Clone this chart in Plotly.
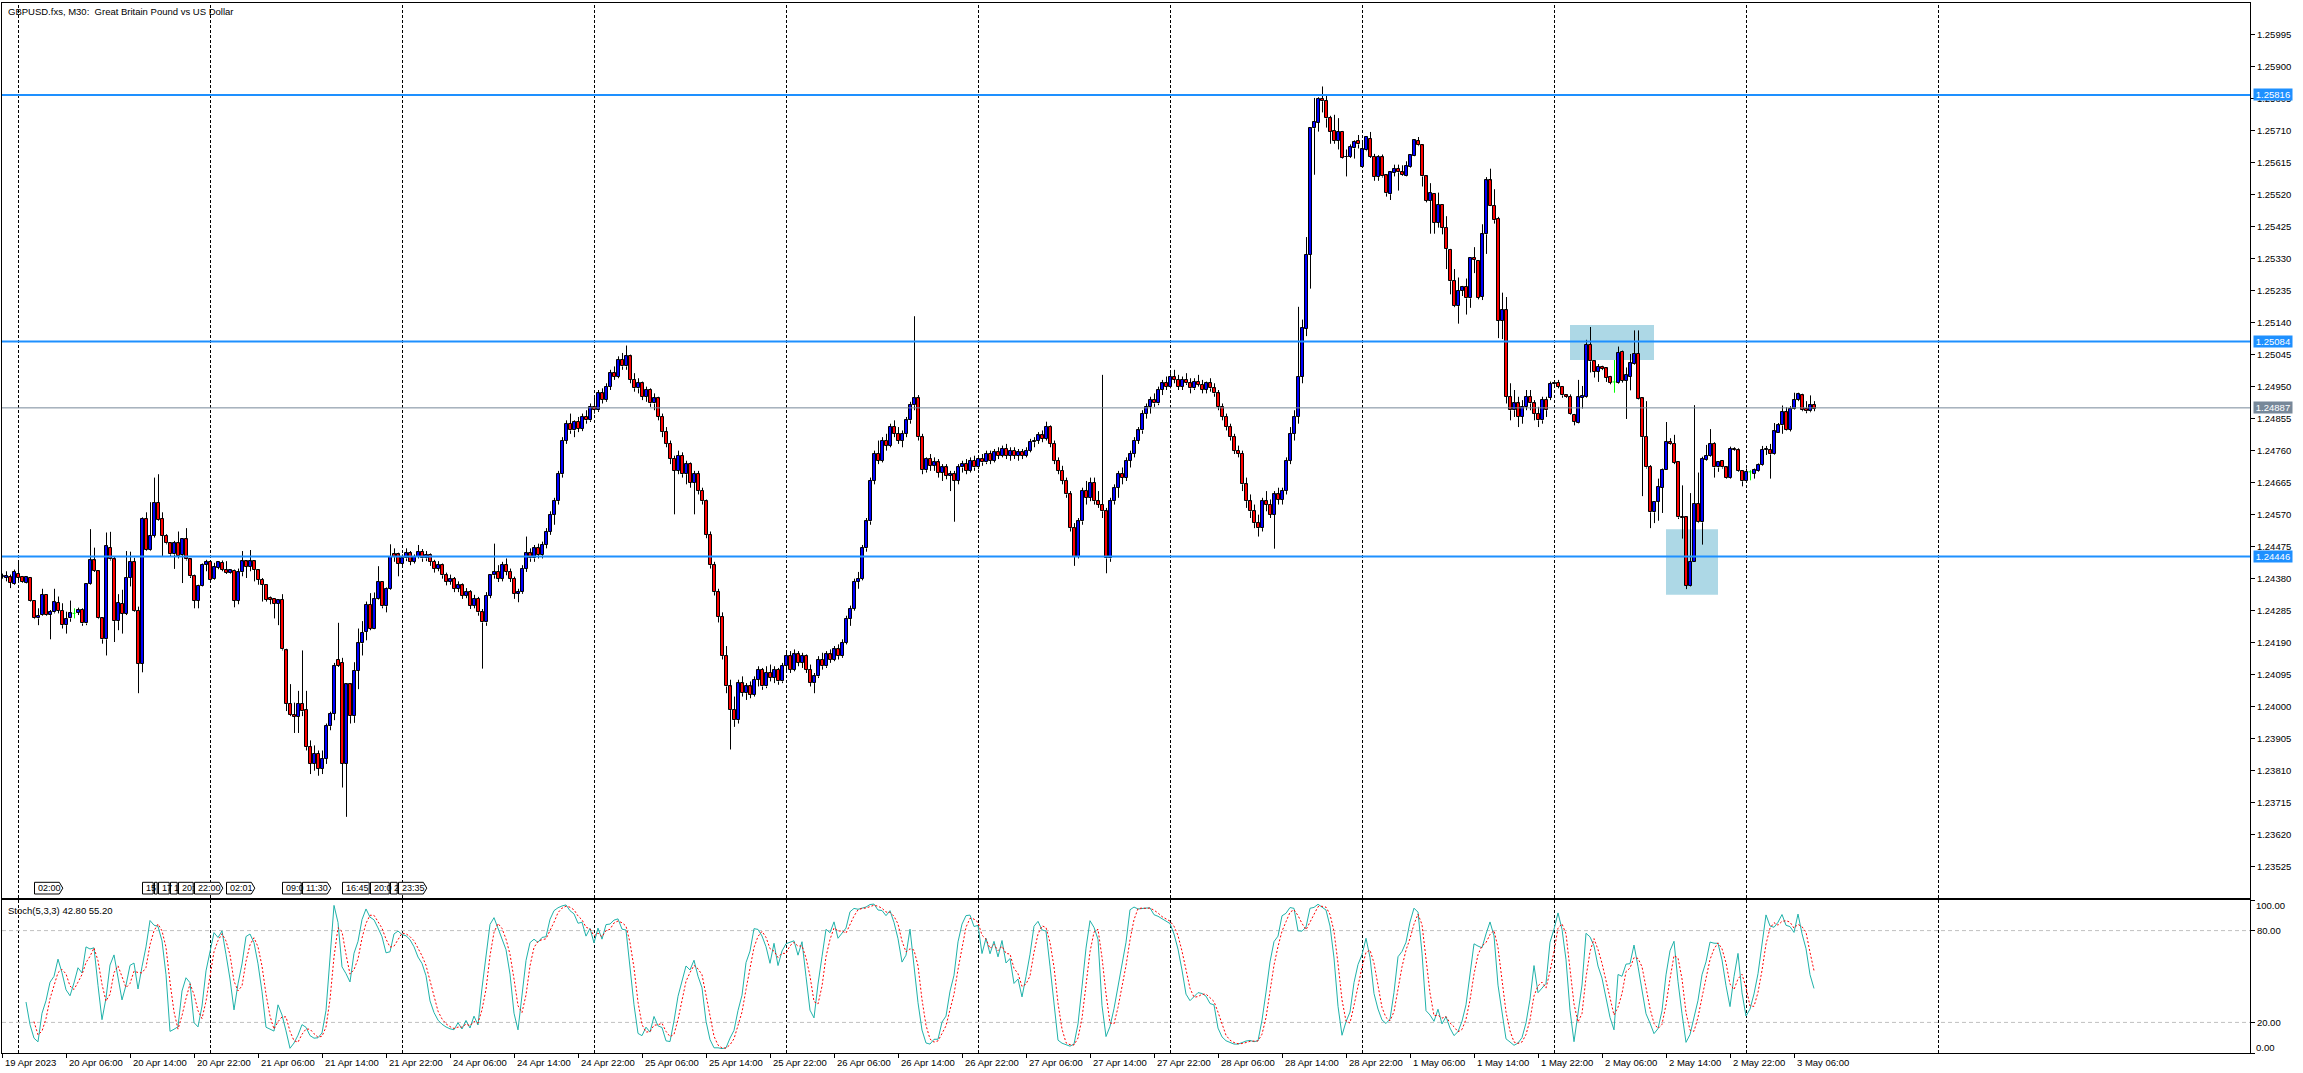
import numpy as np
import pandas as pd
import plotly.graph_objects as go

# ---------------- data ----------------
title_text = "GBPUSD.fxs, M30:  Great Britain Pound vs US Dollar"
stoch_text = "Stoch(5,3,3) 42.80 55.20"
first_bar = "2023-04-19 22:00"
POINT = 1e-5  # prices below are in points

opens = [
124385,124382,124384,124365,124394,124385,124368,124382,124314,124262,
124272,124332,124272,124280,124308,124284,124242,124262,124277,124279,
124287,124247,124364,124434,124402,124262,124200,124472,124437,124254,
124306,124276,124382,124429,124284,124127,124557,124464,124507,124606,
124557,124507,124485,124452,124485,124450,124497,124437,124387,124314,
124359,124422,124430,124378,124412,124427,124405,124397,124404,124314,
124399,124431,124415,124431,124405,124377,124362,124322,124320,124305,
124317,124167,124009,123975,123970,124009,123990,123880,123830,123860,
123815,123845,123942,123979,124140,124130,123830,124066,123972,124107,
124188,124222,124302,124232,124320,124370,124298,124350,124452,124452,
124425,124440,124455,124430,124445,124460,124440,124450,124430,124410,
124420,124390,124370,124380,124350,124360,124330,124340,124300,124320,
124280,124250,124330,124390,124400,124380,124420,124400,124380,124335,
124340,124410,124455,124440,124470,124450,124480,124520,124570,124610,
124690,124790,124840,124820,124845,124825,124860,124850,124890,124880,
124930,124910,124950,124990,124980,125030,125010,125040,124970,124945,
124960,124920,124940,124900,124915,124860,124815,124780,124735,124700,
124745,124690,124720,124665,124690,124640,124610,124510,124420,124340,
124266,124150,124060,123990,123960,124069,124040,124060,124035,124080,
124110,124060,124100,124085,124110,124075,124120,124150,124110,124155,
124130,124150,124110,124070,124090,124140,124120,124155,124140,124170,
124150,124190,124260,124290,124370,124380,124470,124550,124670,124750,
124730,124790,124775,124830,124810,124790,124810,124850,124895,124915,
124800,124702,124735,124715,124725,124695,124710,124685,124690,124670,
124710,124720,124700,124730,124710,124735,124725,124750,124730,124755,
124745,124765,124745,124760,124745,124755,124745,124760,124785,124790,
124805,124795,124830,124780,124730,124700,124670,124630,124530,124445,
124550,124640,124620,124665,124610,124600,124580,124440,124610,124650,
124690,124680,124730,124750,124790,124820,124870,124890,124910,124900,
124940,124960,124950,124980,124970,124950,124970,124960,124945,124965,
124955,124940,124960,124945,124930,124890,124860,124830,124800,124760,
124750,124660,124610,124580,124545,124530,124610,124600,124570,124630,
124615,124640,124730,124810,124860,124980,125122,125342,125717,125734,
125804,125799,125747,125709,125679,125707,125632,125632,125657,125679,
125601,125651,125685,125632,125572,125631,125577,125521,125584,125596,
125586,125574,125601,125636,125679,125666,125574,125501,125522,125437,
125489,125421,125357,125263,125189,125234,125246,125212,125333,125324,
125217,125402,125562,125487,125449,125146,125177,124920,124880,124900,
124860,124890,124920,124900,124870,124850,124910,124917,124957,124962,
124949,124924,124920,124867,124843,124917,124919,125075,125025,124994,
125008,125004,124979,124964,124962,125054,124967,124980,125017,125047,
124915,124802,124712,124577,124609,124650,124702,124787,124780,124727,
124564,124562,124359,124430,124601,124547,124732,124744,124780,124710,
124730,124710,124680,124765,124761,124699,124669,124697,124692,124699,
124717,124763,124763,124749,124812,124835,124874,124822,124885,124910,
124924,124884,124877,124895]

highs = [
124395,124402,124392,124407,124432,124388,124386,124385,124316,124292,
124350,124334,124287,124350,124327,124307,124282,124315,124292,124294,
124292,124367,124527,124472,124404,124264,124517,124519,124447,124334,
124347,124462,124460,124442,124297,124562,124577,124607,124680,124690,
124577,124512,124487,124492,124520,124500,124530,124440,124392,124362,
124425,124436,124434,124427,124432,124434,124432,124407,124407,124410,
124462,124435,124465,124432,124407,124382,124364,124327,124322,124319,
124334,124172,124067,124012,124047,124167,124047,123900,123885,123870,
123870,123950,123985,124130,124249,124145,124070,124070,124132,124232,
124254,124312,124337,124339,124417,124372,124354,124482,124470,124457,
124452,124470,124462,124452,124480,124468,124462,124455,124436,124432,
124425,124398,124392,124385,124372,124366,124352,124346,124332,124326,
124290,124340,124392,124484,124420,124430,124440,124410,124386,124350,
124420,124505,124470,124480,124484,124490,124530,124580,124620,124700,
124800,124850,124870,124850,124860,124870,124880,124900,124920,124940,
124945,124960,125000,125010,125040,125050,125072,125045,124990,124975,
124965,124950,124945,124930,124920,124870,124830,124790,124745,124760,
124755,124730,124725,124700,124700,124650,124615,124520,124430,124350,
124280,124180,124080,124030,124080,124090,124070,124075,124090,124120,
124115,124120,124125,124120,124115,124130,124160,124165,124170,124165,
124160,124155,124125,124100,124150,124160,124165,124170,124180,124185,
124200,124270,124300,124380,124400,124480,124560,124680,124760,124790,
124800,124810,124840,124850,124830,124820,124860,124905,125159,124925,
124810,124740,124750,124740,124735,124720,124720,124700,124700,124720,
124730,124735,124740,124745,124745,124750,124760,124760,124765,124770,
124775,124780,124770,124770,124765,124765,124770,124795,124800,124815,
124820,124846,124835,124790,124740,124715,124680,124640,124545,124560,
124650,124670,124680,124680,124640,124985,124590,124620,124660,124700,
124710,124740,124760,124800,124830,124880,124900,124920,124930,124950,
124970,124980,124990,125000,124985,124980,124990,124975,124975,124985,
124970,124965,124975,124960,124940,124900,124870,124840,124810,124775,
124760,124680,124630,124600,124570,124620,124640,124615,124640,124650,
124650,124740,124830,124880,125187,125149,125394,125719,125807,125809,
125841,125814,125754,125757,125747,125709,125654,125669,125681,125697,
125679,125694,125706,125641,125637,125639,125579,125589,125609,125609,
125607,125619,125639,125684,125691,125669,125576,125554,125524,125526,
125491,125456,125359,125299,125274,125249,125271,125334,125364,125326,
125432,125572,125597,125536,125454,125229,125216,124960,124940,124920,
124910,124940,124940,124910,124890,124920,124920,124965,124967,124970,
124952,124927,124927,124869,124970,124952,125089,125127,125027,125017,
125012,125007,124982,125029,125069,125057,125007,125047,125117,125117,
124917,124907,124717,124610,124677,124707,124845,124797,124807,124729,
124657,124564,124634,124895,124695,124742,124777,124824,124785,124729,
124732,124712,124772,124770,124767,124702,124707,124702,124707,124722,
124774,124774,124780,124842,124842,124894,124889,124892,124932,124932,
124929,124907,124924,124907]

lows = [
124380,124372,124352,124362,124372,124368,124366,124312,124260,124242,
124270,124270,124200,124277,124277,124232,124217,124252,124262,124272,
124240,124242,124362,124400,124260,124187,124152,124434,124192,124227,
124217,124272,124357,124282,124040,124102,124462,124462,124502,124552,
124447,124482,124447,124409,124440,124367,124434,124382,124292,124292,
124357,124402,124372,124376,124408,124402,124394,124395,124295,124304,
124387,124382,124402,124372,124362,124312,124312,124304,124262,124242,
124167,123987,123972,123922,123922,123972,123870,123800,123810,123795,
123800,123830,123930,123960,124118,123760,123673,123950,123952,124052,
124152,124197,124227,124230,124318,124292,124280,124347,124430,124387,
124418,124432,124420,124425,124440,124430,124432,124418,124398,124402,
124380,124360,124362,124340,124340,124320,124322,124290,124292,124270,
124113,124240,124322,124380,124370,124372,124390,124370,124320,124310,
124335,124400,124430,124430,124440,124440,124470,124510,124540,124600,
124680,124780,124810,124800,124815,124818,124840,124845,124870,124875,
124900,124905,124940,124970,124975,125000,125000,124960,124935,124930,
124910,124905,124890,124880,124850,124800,124770,124720,124571,124690,
124680,124660,124650,124571,124630,124600,124500,124410,124330,124250,
124140,124040,123873,123940,123950,124030,124020,124025,124030,124060,
124050,124055,124075,124070,124065,124070,124100,124100,124105,124120,
124115,124100,124060,124040,124085,124110,124115,124130,124135,124140,
124145,124185,124240,124285,124350,124375,124460,124540,124660,124720,
124725,124760,124770,124800,124780,124770,124800,124840,124880,124790,
124690,124695,124700,124700,124680,124670,124675,124640,124549,124660,
124695,124690,124695,124700,124705,124715,124720,124720,124725,124735,
124740,124735,124730,124735,124730,124735,124740,124755,124770,124780,
124785,124790,124770,124720,124690,124660,124620,124520,124418,124440,
124540,124600,124610,124600,124590,124560,124396,124430,124600,124620,
124660,124670,124710,124740,124780,124810,124855,124870,124890,124895,
124925,124940,124945,124960,124940,124940,124955,124930,124940,124950,
124930,124930,124935,124920,124880,124850,124820,124790,124750,124740,
124640,124590,124560,124530,124505,124520,124580,124560,124469,124600,
124600,124630,124720,124790,124840,124960,125100,125241,125579,125707,
125764,125719,125671,125671,125654,125627,125574,125629,125627,125657,
125599,125649,125629,125561,125561,125571,125514,125504,125574,125532,
125576,125573,125599,125634,125664,125544,125497,125404,125404,125422,
125402,125299,125224,125186,125137,125219,125164,125184,125287,125209,
125207,125344,125486,125434,125094,125091,124900,124850,124860,124830,
124840,124880,124880,124850,124830,124840,124860,124910,124949,124945,
124917,124917,124867,124835,124841,124885,124917,124992,124977,124964,
124999,124964,124957,124932,124959,124962,124854,124939,125015,124912,
124625,124707,124530,124545,124552,124575,124702,124777,124720,124557,
124499,124349,124357,124430,124545,124481,124730,124742,124680,124697,
124707,124677,124677,124759,124697,124654,124667,124672,124677,124697,
124715,124747,124677,124747,124812,124810,124820,124817,124882,124907,
124877,124871,124874,124877]

closes = [
124388,124388,124368,124400,124382,124370,124384,124314,124262,124270,
124332,124272,124282,124310,124284,124242,124260,124277,124277,124287,
124247,124364,124434,124404,124262,124200,124476,124437,124254,124308,
124276,124382,124430,124284,124127,124557,124464,124507,124606,124554,
124507,124485,124452,124485,124447,124497,124437,124387,124314,124359,
124422,124430,124375,124414,124429,124407,124397,124405,124314,124399,
124431,124415,124431,124407,124376,124362,124317,124317,124305,124316,
124170,124009,123975,123970,124009,123986,123880,123830,123860,123815,
123845,123942,123979,124120,124122,123830,124066,123972,124107,124188,
124220,124302,124232,124320,124370,124298,124350,124444,124444,124425,
124440,124455,124430,124445,124460,124440,124450,124430,124410,124420,
124390,124370,124380,124350,124360,124330,124340,124300,124320,124280,
124250,124330,124390,124400,124380,124420,124400,124380,124335,124340,
124410,124455,124440,124470,124450,124480,124520,124570,124610,124690,
124790,124840,124820,124845,124825,124860,124850,124890,124880,124930,
124910,124950,124990,124980,125030,125010,125040,124970,124945,124960,
124920,124940,124900,124915,124860,124815,124780,124735,124700,124745,
124690,124720,124665,124690,124640,124610,124510,124420,124340,124266,
124150,124060,123990,123960,124069,124040,124060,124035,124080,124110,
124060,124100,124085,124110,124075,124120,124150,124110,124155,124130,
124150,124110,124070,124090,124140,124120,124155,124140,124170,124150,
124190,124260,124290,124370,124380,124470,124550,124670,124750,124730,
124790,124775,124830,124810,124790,124810,124850,124895,124915,124800,
124702,124735,124715,124725,124695,124710,124685,124690,124670,124710,
124720,124700,124730,124710,124735,124725,124750,124730,124755,124745,
124765,124745,124760,124745,124755,124745,124760,124785,124790,124805,
124795,124830,124780,124730,124700,124670,124630,124530,124445,124550,
124640,124620,124665,124610,124600,124580,124440,124610,124650,124690,
124680,124730,124750,124790,124820,124870,124890,124910,124900,124940,
124960,124950,124980,124970,124950,124970,124960,124945,124965,124955,
124940,124960,124945,124930,124890,124860,124830,124800,124760,124750,
124660,124610,124580,124545,124530,124610,124600,124570,124630,124615,
124640,124730,124810,124860,124980,125124,125342,125717,125737,125804,
125797,125746,125707,125679,125707,125629,125633,125661,125676,125669,
125654,125691,125632,125572,125631,125574,125524,125586,125596,125586,
125579,125604,125637,125681,125666,125574,125501,125526,125437,125489,
125422,125359,125263,125189,125234,125247,125212,125333,125327,125214,
125402,125562,125487,125444,125146,125177,124920,124880,124900,124860,
124890,124920,124900,124870,124850,124910,124880,124957,124962,124949,
124924,124920,124869,124845,124918,124922,125075,125025,124994,125008,
125002,124977,124962,124964,125051,124967,124984,125020,125047,124914,
124800,124710,124577,124609,124652,124702,124787,124779,124724,124562,
124560,124359,124430,124603,124547,124735,124744,124780,124710,124727,
124710,124680,124765,124761,124699,124669,124697,124697,124702,124717,
124762,124764,124749,124817,124835,124874,124822,124885,124910,124927,
124880,124877,124897,124885]

level_prices = [1.25816, 1.25084, 1.24446]
last_price = 1.24887

price_tick_labels = ["1.25995", "1.25900", "1.25805", "1.25710", "1.25615", "1.25520",
                     "1.25425", "1.25330", "1.25235", "1.25140", "1.25045", "1.24950",
                     "1.24855", "1.24760", "1.24665", "1.24570", "1.24475", "1.24380",
                     "1.24285", "1.24190", "1.24095", "1.24000", "1.23905", "1.23810",
                     "1.23715", "1.23620", "1.23525"]
stoch_levels = [80, 20]

time_tick_times = ["2023-04-19 22:00", "2023-04-20 06:00", "2023-04-20 14:00", "2023-04-20 22:00",
                   "2023-04-21 06:00", "2023-04-21 14:00", "2023-04-21 22:00", "2023-04-24 06:00",
                   "2023-04-24 14:00", "2023-04-24 22:00", "2023-04-25 06:00", "2023-04-25 14:00",
                   "2023-04-25 22:00", "2023-04-26 06:00", "2023-04-26 14:00", "2023-04-26 22:00",
                   "2023-04-27 06:00", "2023-04-27 14:00", "2023-04-27 22:00", "2023-04-28 06:00",
                   "2023-04-28 14:00", "2023-04-28 22:00", "2023-05-01 06:00", "2023-05-01 14:00",
                   "2023-05-01 22:00", "2023-05-02 06:00", "2023-05-02 14:00", "2023-05-02 22:00",
                   "2023-05-03 06:00"]
time_tick_labels = ["19 Apr 2023", "20 Apr 06:00", "20 Apr 14:00", "20 Apr 22:00",
                    "21 Apr 06:00", "21 Apr 14:00", "21 Apr 22:00", "24 Apr 06:00",
                    "24 Apr 14:00", "24 Apr 22:00", "25 Apr 06:00", "25 Apr 14:00",
                    "25 Apr 22:00", "26 Apr 06:00", "26 Apr 14:00", "26 Apr 22:00",
                    "27 Apr 06:00", "27 Apr 14:00", "27 Apr 22:00", "28 Apr 06:00",
                    "28 Apr 14:00", "28 Apr 22:00", "1 May 06:00", "1 May 14:00",
                    "1 May 22:00", "2 May 06:00", "2 May 14:00", "2 May 22:00",
                    "3 May 06:00"]
grid_days = ["2023-04-20", "2023-04-21", "2023-04-24", "2023-04-25", "2023-04-26", "2023-04-27",
             "2023-04-28", "2023-05-01", "2023-05-02", "2023-05-03", "2023-05-04"]

# calendar event tags: time and the (truncated) text visible on the chart
event_times = ["2023-04-20 02:00", "2023-04-20 15:30", "2023-04-20 17:00", "2023-04-20 17:30",
               "2023-04-20 19:00", "2023-04-20 20:00", "2023-04-20 22:00", "2023-04-21 02:01",
               "2023-04-21 09:00", "2023-04-21 11:30", "2023-04-21 16:45", "2023-04-21 20:00",
               "2023-04-21 22:30", "2023-04-21 23:35"]
event_labels = ["02:00", "15", "", "17", "1", "20:", "22:00", "02:01",
                "09:0", "11:30", "16:45", "20:0", "2", "23:35"]

zone_start_times = ["2023-05-02 02:00", "2023-05-02 14:00"]
zone_end_times = ["2023-05-02 12:30", "2023-05-02 20:30"]
zone_tops = [1.25133, 1.24527]
zone_bottoms = [1.25029, 1.24332]

# ---------------- styles ----------------
FONT = "Liberation Sans, Arial, sans-serif"
BLUE_LINE = "#1E90FF"
UP_COL = "#0000FF"
DN_COL = "#FF0000"
DOJI_COL = "#00FF00"
W, H = 2303, 1073
M_L, M_R, M_T, M_B = 2, 53, 3, 20
plot_w = W - M_L - M_R
plot_h = H - M_T - M_B
X_RANGE = [0.0, 562.0]
Y_RANGE = [1.234312, 1.260888]
main_dom = [(1053 - 898.3) / plot_h, 1.0]
stoch_dom = [0.0, (1053 - 900) / plot_h]
px_per_bar = plot_w / (X_RANGE[1] - X_RANGE[0])
WICK_OFF = 0.5 / px_per_bar  # half-pixel offset so 1px wicks render crisp

n = len(closes)
assert len(opens) == n and len(highs) == n and len(lows) == n

O = np.array(opens) * POINT
Hh = np.array(highs) * POINT
L = np.array(lows) * POINT
C = np.array(closes) * POINT
idx = np.arange(n)

bar_times = pd.date_range(first_bar, periods=2000, freq="30min")
bar_times = bar_times[bar_times.dayofweek < 5][:700]
pos = {t: i for i, t in enumerate(bar_times)}


def tpos(s):
    return pos[pd.Timestamp(s).floor("30min")]


fig = go.Figure()

# wicks (split around body so they don't cross the fill)
top = np.maximum(O, C)
bot = np.minimum(O, C)
is_doji = O == C
wx, wy = [], []
for i in idx[~is_doji]:
    xw = i + WICK_OFF
    wx += [xw, xw, None, xw, xw, None]
    wy += [Hh[i], top[i], None, bot[i], L[i], None]
fig.add_trace(go.Scatter(x=wx, y=wy, mode="lines", line=dict(color="black", width=1),
                         hoverinfo="skip", showlegend=False))

up = (C > O)
dn = (C < O)
for mask, col in [(up, UP_COL), (dn, DN_COL)]:
    fig.add_trace(go.Bar(x=idx[mask], y=(top - bot)[mask], base=bot[mask], width=0.75,
                         marker=dict(color=col, line=dict(color="black", width=1)),
                         hoverinfo="skip", showlegend=False))

dx, dy = [], []
for i in idx[is_doji]:
    xw = i + WICK_OFF
    dx += [xw, xw, None, i - 0.375, i + 0.375, None]
    dy += [Hh[i], L[i], None, O[i], O[i], None]
fig.add_trace(go.Scatter(x=dx, y=dy, mode="lines", line=dict(color=DOJI_COL, width=1),
                         hoverinfo="skip", showlegend=False))

# Stochastic (5,3,3), computed from the bars above
sH, sL, sC = pd.Series(Hh), pd.Series(L), pd.Series(C)
ll = sL.rolling(5).min()
hh = sH.rolling(5).max()
k_line = 100 * (sC - ll).rolling(3).sum() / (hh - ll).rolling(3).sum()
d_line = k_line.rolling(3).mean()
fig.add_trace(go.Scatter(x=idx, y=k_line, mode="lines", line=dict(color="#20B2AA", width=1),
                         xaxis="x2", yaxis="y2", hoverinfo="skip", showlegend=False))
fig.add_trace(go.Scatter(x=idx, y=d_line, mode="lines",
                         line=dict(color="#FF0000", width=1, dash="2px,2px"),
                         xaxis="x2", yaxis="y2", hoverinfo="skip", showlegend=False))

shapes = []
for d in grid_days:
    gi = tpos(d + " 00:00") + WICK_OFF
    shapes.append(dict(type="line", xref="x", yref="paper", x0=gi, x1=gi, y0=0, y1=1,
                       line=dict(color="black", width=1, dash="3px,2px"), layer="below"))
for s, e, t, b in zip(zone_start_times, zone_end_times, zone_tops, zone_bottoms):
    shapes.append(dict(type="rect", xref="x", yref="y", x0=tpos(s), x1=tpos(e), y0=b, y1=t,
                       fillcolor="#ADD8E6", line=dict(width=0), layer="below"))
for lv in stoch_levels:
    shapes.append(dict(type="line", xref="paper", yref="y2", x0=0, x1=1, y0=lv, y1=lv,
                       line=dict(color="#C0C0C0", width=1, dash="4px,3px"), layer="below"))
for p in level_prices:
    shapes.append(dict(type="line", xref="paper", yref="y", x0=0, x1=1, y0=p, y1=p,
                       line=dict(color=BLUE_LINE, width=2), layer="above"))
shapes.append(dict(type="line", xref="paper", yref="y", x0=0, x1=1, y0=last_price, y1=last_price,
                   line=dict(color="#778899", width=1), layer="above"))

ann = []
ann.append(dict(text=title_text, xref="paper", yref="paper", x=0, y=1, xanchor="left",
                yanchor="top", xshift=4, yshift=-1, showarrow=False,
                font=dict(family=FONT, size=9.5, color="black")))
ann.append(dict(text=stoch_text, xref="paper", yref="paper", x=0, y=stoch_dom[1],
                xanchor="left", yanchor="top", xshift=4, yshift=-3, showarrow=False,
                font=dict(family=FONT, size=9.5, color="black")))
for p in level_prices:
    ann.append(dict(text=f"{p:.5f}", xref="paper", yref="y", x=1, y=p, xanchor="left",
                    yanchor="middle", xshift=3, showarrow=False, bgcolor=BLUE_LINE,
                    borderpad=1, width=36, height=9,
                    font=dict(family=FONT, size=9.5, color="white")))
ann.append(dict(text=f"{last_price:.5f}", xref="paper", yref="y", x=1, y=last_price,
                xanchor="left", yanchor="middle", xshift=3, showarrow=False, bgcolor="#778899",
                borderpad=1, width=36, height=9,
                font=dict(family=FONT, size=9.5, color="white")))
ann.append(dict(text="100.00", xref="paper", yref="y2", x=1, y=100, xanchor="left",
                yanchor="middle", xshift=4, yshift=-5, showarrow=False,
                font=dict(family=FONT, size=9.5, color="black")))
ann.append(dict(text="0.00", xref="paper", yref="y2", x=1, y=0, xanchor="left",
                yanchor="middle", xshift=4, yshift=6, showarrow=False,
                font=dict(family=FONT, size=9.5, color="black")))
for t, lab in zip(time_tick_times, time_tick_labels):
    ann.append(dict(text=lab, xref="x2", yref="paper", x=tpos(t), y=0, xanchor="left",
                    yanchor="middle", xshift=1, yshift=-9, showarrow=False,
                    font=dict(family=FONT, size=9.5, color="black")))

# calendar event tags (pentagon-shaped, clipped by the next tag)
ev_idx = [tpos(t) for t in event_times]
tag_y0 = main_dom[0] + 4.3 / plot_h
tag_y1 = tag_y0 + 11.7 / plot_h
tag_ym = (tag_y0 + tag_y1) / 2
full_w = 28.3 / px_per_bar
tip_w = 3.5 / px_per_bar
for j, (ei, lab) in enumerate(zip(ev_idx, event_labels)):
    w = full_w
    clipped = False
    if j + 1 < len(ev_idx):
        gap = (ev_idx[j + 1] - ei) - 1.3 / px_per_bar
        if gap < w:
            w, clipped = gap, True
    x0, x1 = ei + WICK_OFF, ei + WICK_OFF + w
    if clipped:
        path = f"M {x0},{tag_y0} L {x1},{tag_y0} L {x1},{tag_y1} L {x0},{tag_y1} Z"
    else:
        xt = x1 - tip_w
        path = (f"M {x0},{tag_y0} L {xt},{tag_y0} L {x1},{tag_ym} L {xt},{tag_y1} "
                f"L {x0},{tag_y1} Z")
    shapes.append(dict(type="path", xref="x", yref="paper", path=path, fillcolor="white",
                       line=dict(color="black", width=1), layer="above"))
    if lab:
        ann.append(dict(text=lab, xref="x", yref="paper", x=ei, y=tag_ym, xanchor="left",
                        yanchor="middle", xshift=2, showarrow=False,
                        font=dict(family=FONT, size=9, color="black")))

fig.update_layout(
    width=W, height=H, margin=dict(l=M_L, r=M_R, t=M_T, b=M_B),
    paper_bgcolor="white", plot_bgcolor="white", barmode="overlay", bargap=0,
    showlegend=False, shapes=shapes, annotations=ann,
    xaxis=dict(domain=[0, 1], anchor="y", range=X_RANGE, showgrid=False, zeroline=False,
               showline=True, mirror=True, linecolor="black", linewidth=1,
               showticklabels=False, ticks=""),
    xaxis2=dict(domain=[0, 1], anchor="y2", matches="x", range=X_RANGE, showgrid=False,
                zeroline=False, showline=True, mirror=True, linecolor="black", linewidth=1,
                tickvals=[tpos(t) for t in time_tick_times], ticktext=[""] * len(time_tick_times),
                ticks="outside", ticklen=4, tickcolor="black"),
    yaxis=dict(domain=main_dom, anchor="x", side="right", range=Y_RANGE, showgrid=False,
               zeroline=False, showline=True, mirror=True, linecolor="black", linewidth=1,
               tickvals=[float(s) for s in price_tick_labels], ticktext=price_tick_labels,
               ticks="outside", ticklen=4, tickcolor="black",
               tickfont=dict(family=FONT, size=9.5, color="black")),
    yaxis2=dict(domain=stoch_dom, anchor="x2", side="right", range=[0, 100], showgrid=False,
                zeroline=False, showline=True, mirror=True, linecolor="black", linewidth=1,
                tickvals=[100, 80, 20, 0], ticktext=["", "80.00", "20.00", ""],
                ticks="outside", ticklen=4, tickcolor="black",
                tickfont=dict(family=FONT, size=9.5, color="black")),
)

fig.write_html("out.html", config={"displayModeBar": False},
               post_script="document.body.style.margin='0';document.body.style.overflow='hidden';")
